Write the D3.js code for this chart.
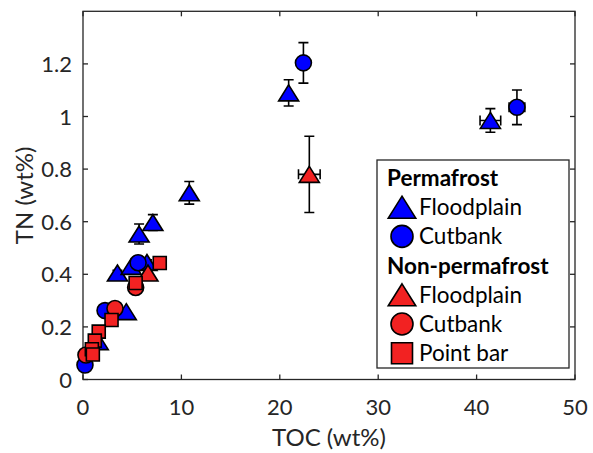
<!DOCTYPE html>
<html>
<head>
<meta charset="utf-8">
<script src="https://cdn.jsdelivr.net/npm/d3@7"></script>
<style>
  body { margin: 0; background: #fff; }
  text { font-family: Lato, "Open Sans", sans-serif; }
</style>
</head>
<body>
<svg id="chart"></svg>
<script>
var width = 593,
    height = 453;

// permafrost floodplain (blue triangles)
var pfFloodTOC    = [20.9, 41.4, 10.8, 7.1, 5.7, 3.5, 6.5, 4.9, 4.4, 1.55];
var pfFloodTN     = [1.09, 0.985, 0.71, 0.597, 0.553, 0.405, 0.445, 0.43, 0.258, 0.144];
var pfFloodTNErr  = [0.05, 0.045, 0.043, 0.03, 0.038, 0.01, 0.01, 0, 0, 0];
var pfFloodTOCErr = [0, 1.05, 0, 0, 0, 0, 0, 0, 0, 0];

// permafrost cutbank (blue circles)
var pfCutTOC    = [22.4, 44.1, 5.6, 2.24, 0.2];
var pfCutTN     = [1.204, 1.035, 0.444, 0.262, 0.055];
var pfCutTNErr  = [0.077, 0.066, 0.01, 0, 0];
var pfCutTOCErr = [0, 0.8, 0, 0, 0];

// non-permafrost floodplain (red triangles)
var npFloodTOC    = [23.0, 6.6];
var npFloodTN     = [0.78, 0.405];
var npFloodTNErr  = [0.145, 0.01];
var npFloodTOCErr = [1.1, 0];

// non-permafrost cutbank (red circles)
var npCutTOC = [5.35, 3.25, 0.3];
var npCutTN  = [0.35, 0.27, 0.093];

// non-permafrost point bar (red squares)
var npBarTOC = [7.8, 5.35, 2.9, 1.6, 1.2, 0.9, 1.0];
var npBarTN  = [0.443, 0.367, 0.226, 0.182, 0.148, 0.115, 0.095];

var xTicks = [0, 10, 20, 30, 40, 50];
var yTicks = [0, 0.2, 0.4, 0.6, 0.8, 1, 1.2];

var blue = "#0000ff",
    red = "#f22222",
    axisColor = "#262626";

var x = d3.scaleLinear().domain([0, 50]).range([83, 575]);
var y = d3.scaleLinear().domain([0, 1.4]).range([379.5, 11.3]);

var svg = d3.select("#chart")
    .attr("width", width)
    .attr("height", height);

// marker paths, centred on the bounding box
function markerPath(shape, s) {
    if (shape == "tri") {
        var w = s * 1.25, h = s;
        return "M0," + (-h / 2) + "L" + (w / 2) + "," + (h / 2) + "L" + (-w / 2) + "," + (h / 2) + "Z";
    }
    if (shape == "sq") {
        return "M" + (-s / 2) + "," + (-s / 2) + "h" + s + "v" + s + "h" + (-s) + "Z";
    }
    var r = s / 2;
    return "M" + (-r) + ",0a" + r + "," + r + " 0 1,0 " + (2 * r) + ",0a" + r + "," + r + " 0 1,0 " + (-2 * r) + ",0Z";
}

var series = [
    {toc: pfFloodTOC, tn: pfFloodTN, tnErr: pfFloodTNErr, tocErr: pfFloodTOCErr, shape: "tri", size: 16, color: blue},
    {toc: pfCutTOC, tn: pfCutTN, tnErr: pfCutTNErr, tocErr: pfCutTOCErr, shape: "circ", size: 16, color: blue},
    {toc: npFloodTOC, tn: npFloodTN, tnErr: npFloodTNErr, tocErr: npFloodTOCErr, shape: "tri", size: 16, color: red},
    {toc: npCutTOC, tn: npCutTN, shape: "circ", size: 16, color: red},
    {toc: npBarTOC, tn: npBarTN, shape: "sq", size: 13, color: red}
];

// axes box with inward ticks
var g = svg.append("g");
g.append("rect")
    .attr("x", x(0)).attr("y", y(1.4))
    .attr("width", x(50) - x(0)).attr("height", y(0) - y(1.4))
    .attr("fill", "none").attr("stroke", axisColor).attr("stroke-width", 1.3);

xTicks.forEach(function(t) {
    g.append("line").attr("x1", x(t)).attr("x2", x(t)).attr("y1", y(0)).attr("y2", y(0) - 5)
        .attr("stroke", axisColor).attr("stroke-width", 1.3);
    g.append("line").attr("x1", x(t)).attr("x2", x(t)).attr("y1", y(1.4)).attr("y2", y(1.4) + 5)
        .attr("stroke", axisColor).attr("stroke-width", 1.3);
    g.append("text").attr("x", x(t)).attr("y", 415)
        .attr("text-anchor", "middle").attr("font-size", 22).attr("fill", axisColor)
        .text(t);
});
yTicks.forEach(function(t) {
    g.append("line").attr("x1", x(0)).attr("x2", x(0) + 5).attr("y1", y(t)).attr("y2", y(t))
        .attr("stroke", axisColor).attr("stroke-width", 1.3);
    g.append("line").attr("x1", x(50)).attr("x2", x(50) - 5).attr("y1", y(t)).attr("y2", y(t))
        .attr("stroke", axisColor).attr("stroke-width", 1.3);
    g.append("text").attr("x", 72).attr("y", y(t) + 8)
        .attr("text-anchor", "end").attr("font-size", 22).attr("fill", axisColor)
        .text(t);
});

svg.append("text")
    .attr("x", (x(0) + x(50)) / 2).attr("y", 446)
    .attr("text-anchor", "middle").attr("font-size", 24).attr("fill", axisColor)
    .text("TOC (wt%)");
svg.append("text")
    .attr("transform", "translate(33," + ((y(0) + y(1.4)) / 2) + ") rotate(-90)")
    .attr("text-anchor", "middle").attr("font-size", 24).attr("fill", axisColor)
    .text("TN (wt%)");

// data: error bars then markers, series by series
var cap = 5;
series.forEach(function(s) {
    var sg = svg.append("g");
    s.toc.forEach(function(v, i) {
        var cx = x(v), cy = y(s.tn[i]);
        var e = s.tnErr ? s.tnErr[i] : 0;
        if (e > 0) {
            var y1 = y(s.tn[i] + e), y2 = y(s.tn[i] - e);
            sg.append("path")
                .attr("d", "M" + cx + "," + y1 + "V" + y2 +
                    "M" + (cx - cap) + "," + y1 + "H" + (cx + cap) +
                    "M" + (cx - cap) + "," + y2 + "H" + (cx + cap))
                .attr("stroke", "#000").attr("stroke-width", 1.6).attr("fill", "none");
        }
        var ex = s.tocErr ? s.tocErr[i] : 0;
        if (ex > 0) {
            var x1 = x(v - ex), x2 = x(v + ex);
            sg.append("path")
                .attr("d", "M" + x1 + "," + cy + "H" + x2 +
                    "M" + x1 + "," + (cy - cap) + "V" + (cy + cap) +
                    "M" + x2 + "," + (cy - cap) + "V" + (cy + cap))
                .attr("stroke", "#000").attr("stroke-width", 1.6).attr("fill", "none");
        }
        sg.append("path")
            .attr("transform", "translate(" + cx + "," + cy + ")")
            .attr("d", markerPath(s.shape, s.size))
            .attr("fill", s.color).attr("stroke", "#000").attr("stroke-width", 1.6);
    });
});

// legend
var legendRows = [
    {label: "Permafrost", bold: true},
    {label: "Floodplain", shape: "tri", color: blue},
    {label: "Cutbank", shape: "circ", color: blue},
    {label: "Non-permafrost", bold: true},
    {label: "Floodplain", shape: "tri", color: red},
    {label: "Cutbank", shape: "circ", color: red},
    {label: "Point bar", shape: "sq", color: red}
];

var lg = svg.append("g");
lg.append("rect")
    .attr("x", 377).attr("y", 160).attr("width", 192).attr("height", 208)
    .attr("fill", "#fff").attr("stroke", axisColor).attr("stroke-width", 1.3);

legendRows.forEach(function(r, i) {
    var ly = 178 + i * 29.2;
    if (r.bold) {
        lg.append("text").attr("x", 387).attr("y", ly + 8)
            .attr("font-size", 22.5).attr("font-weight", "bold").attr("fill", "#000")
            .text(r.label);
    } else {
        lg.append("path")
            .attr("transform", "translate(402," + ly + ")")
            .attr("d", markerPath(r.shape, r.shape == "sq" ? 21 : 22))
            .attr("fill", r.color).attr("stroke", "#000").attr("stroke-width", 1.6);
        lg.append("text").attr("x", 419).attr("y", ly + 8)
            .attr("font-size", 22.5).attr("fill", "#000")
            .text(r.label);
    }
});
</script>
</body>
</html>
